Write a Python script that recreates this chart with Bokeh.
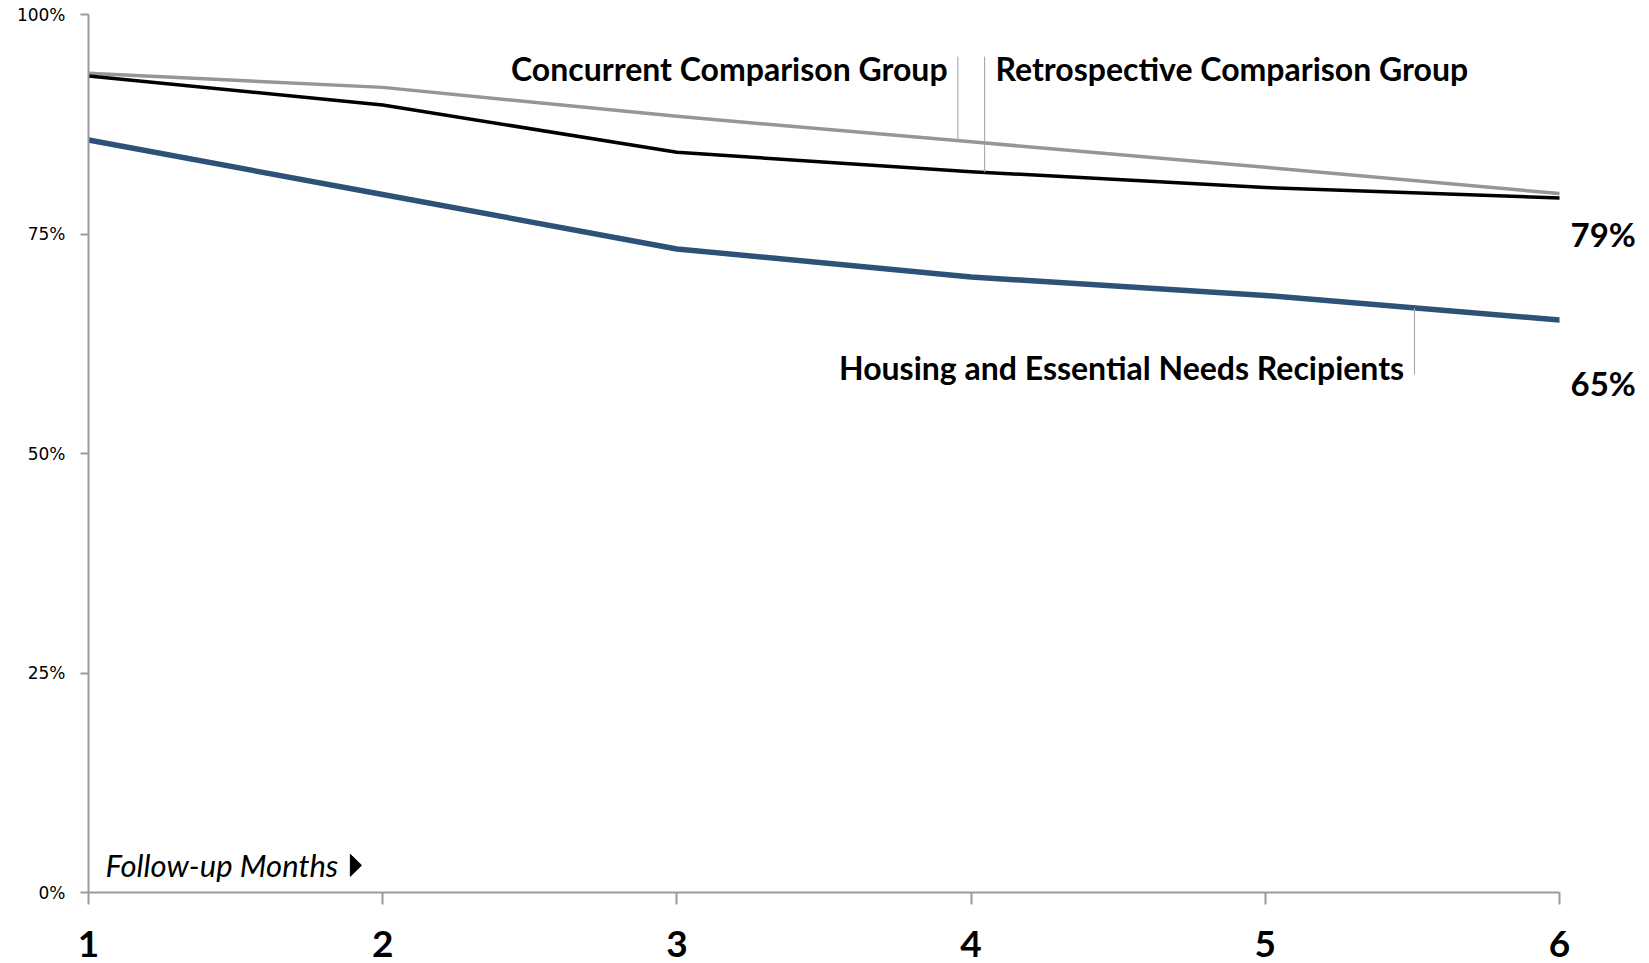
import numpy as np
from bokeh.plotting import figure
from bokeh.models import Range1d, FixedTicker, PrintfTickFormatter, Label, LinearAxis
from bokeh.embed import file_html
from bokeh.resources import INLINE

months = [1, 2, 3, 4, 5, 6]
month_labels = ["1", "2", "3", "4", "5", "6"]
concurrent = [93.3, 91.7, 88.4, 85.5, 82.6, 79.6]
retrospective = [93.0, 89.7, 84.3, 82.1, 80.3, 79.1]
hen = [85.7, 79.5, 73.3, 70.1, 68.0, 65.2]
y_ticks = [0, 25, 50, 75, 100]

series_names = ["Concurrent Comparison Group", "Retrospective Comparison Group",
                "Housing and Essential Needs Recipients"]
end_labels = ["79%", "65%"]
end_label_y = [75, 58]

AXIS_GREY = "#9a9a9a"
FONT = "Lato"

p = figure(width=1649, height=963, x_range=Range1d(1, 6), y_range=Range1d(0, 100),
           output_backend="svg", toolbar_location=None,
           min_border_left=88, min_border_right=90, min_border_top=14, min_border_bottom=71)
p.outline_line_color = None
p.xgrid.visible = False
p.ygrid.visible = False
p.background_fill_color = "white"
p.border_fill_color = "white"

# axes
p.xaxis.ticker = FixedTicker(ticks=months)
p.xaxis.major_label_overrides = {m: l for m, l in zip(months, month_labels)}
p.xaxis.axis_line_color = AXIS_GREY
p.xaxis.axis_line_width = 2
p.xaxis.major_tick_line_color = AXIS_GREY
p.xaxis.major_tick_line_width = 2
p.xaxis.major_tick_out = 12
p.xaxis.major_tick_in = 0
p.xaxis.minor_tick_line_color = None
p.xaxis.major_label_text_font = FONT
p.xaxis.major_label_text_font_style = "bold"
p.xaxis.major_label_text_font_size = "37px"
p.xaxis.major_label_text_color = "black"
p.xaxis.major_label_standoff = 26

p.yaxis.ticker = FixedTicker(ticks=y_ticks)
p.yaxis.formatter = PrintfTickFormatter(format="%d%%")
p.yaxis.axis_line_color = AXIS_GREY
p.yaxis.axis_line_width = 2
p.yaxis.major_tick_line_color = AXIS_GREY
p.yaxis.major_tick_line_width = 2
p.yaxis.major_tick_out = 8
p.yaxis.major_tick_in = 0
p.yaxis.minor_tick_line_color = None
p.yaxis.major_label_text_font = "DejaVu Sans"
p.yaxis.major_label_text_font_size = "17px"
p.yaxis.major_label_text_color = "black"
p.yaxis.major_label_standoff = 15

# end-value labels on the right side
right = LinearAxis(ticker=FixedTicker(ticks=end_label_y),
                   major_label_overrides={y: t for y, t in zip(end_label_y, end_labels)})
right.axis_line_color = None
right.major_tick_line_color = None
right.minor_tick_line_color = None
right.major_label_text_font = FONT
right.major_label_text_font_style = "bold"
right.major_label_text_font_size = "33px"
right.major_label_text_color = "black"
right.major_label_standoff = 5
p.add_layout(right, "right")

# lines
p.line(months, concurrent, line_color="#969696", line_width=3.5, line_join="round", line_cap="round")
p.line(months, retrospective, line_color="black", line_width=3.5, line_join="round", line_cap="round")
p.line(months, hen, line_color="#2e5277", line_width=5.5, line_join="round", line_cap="round")

# leader lines (ends computed from the data)
lead_x_c, lead_x_r, lead_x_h = 3.955, 4.046, 5.507
top_y = 95.2
p.segment(x0=[lead_x_c, lead_x_r, lead_x_h],
          y0=[top_y, top_y, 59.0],
          x1=[lead_x_c, lead_x_r, lead_x_h],
          y1=[float(np.interp(lead_x_c, months, concurrent)),
              float(np.interp(lead_x_r, months, retrospective)),
              float(np.interp(lead_x_h, months, hen))],
          line_color="#a0a0a0", line_width=1)

# series labels
def add_label(x, y, text, align, size="32px", style="bold", x_offset=0):
    p.add_layout(Label(x=x, y=y, text=text, text_align=align, text_baseline="middle",
                       text_font=FONT, text_font_style=style, text_font_size=size,
                       text_color="black", x_offset=x_offset))

add_label(lead_x_c - 0.035, 93.9, series_names[0], "right")
add_label(lead_x_r + 0.037, 93.9, series_names[1], "left")
add_label(lead_x_h - 0.035, 59.8, series_names[2], "right")

# axis caption
add_label(1, 3.1, "Follow-up Months", "left", size="31px", style="italic", x_offset=17)
tx = 1.89
p.patch([tx, tx, tx + 0.038], [3.1 - 1.25, 3.1 + 1.25, 3.1], fill_color="black", line_color="black")

open("out.html", "w").write(file_html(p, INLINE))
